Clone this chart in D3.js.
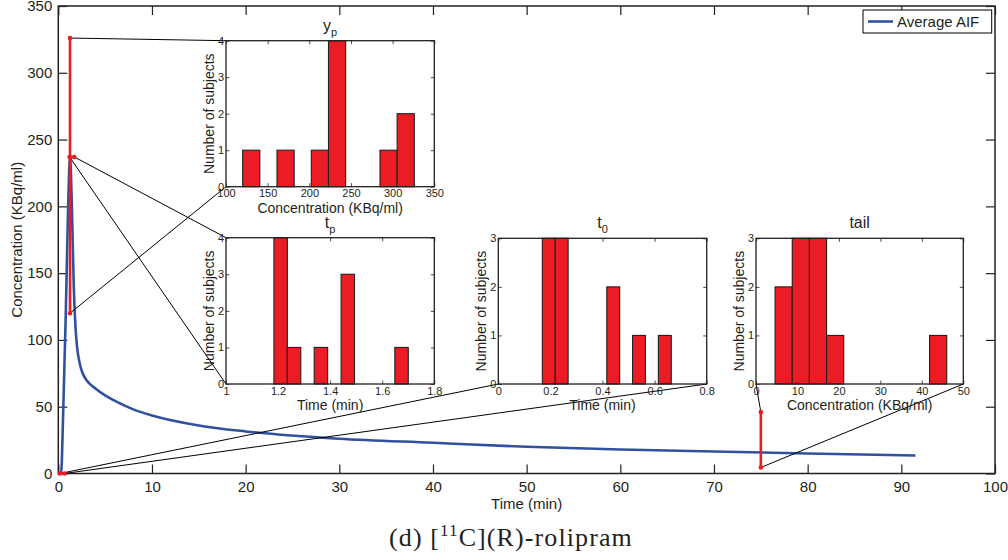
<!DOCTYPE html>
<html>
<head>
<meta charset="utf-8">
<script src="https://cdn.jsdelivr.net/npm/d3@7"></script>
<style>
  html, body { margin: 0; padding: 0; background: #fff; }
  svg { display: block; }
  text { font-family: "Liberation Sans", Arial, sans-serif; fill: #231f20; }
</style>
</head>
<body>
<svg id="chart" width="1008" height="560"></svg>
<script>
// ---------------- DATA ----------------
// Average AIF curve (time in min, concentration in KBq/ml)
const aifTime = [0, 0.3, 0.5, 0.8, 1.05, 1.25, 1.45, 1.65, 1.85, 2.0, 2.3, 2.6, 3, 4, 5, 6, 8, 10, 15, 20, 30, 40, 50, 60, 70, 80, 91.5];
const aifConc = [0, 0, 40, 120, 200, 237, 200, 140, 108, 95, 82, 75, 70, 63.5, 58.5, 54.5, 48, 43.5, 36, 31.5, 26, 23, 20, 18, 16.5, 15, 13.5];

// parameter ranges shown on the main plot
const ypRange = [120, 326];   // peak concentration range (at time tpAt)
const tpAt = 1.25;
const tpRange = [1.2, 1.7];   // peak time range (at concentration tpLevel)
const tpLevel = 237;
const t0Range = [0.17, 0.66]; // start time range (at concentration 0)
const tailRange = [4.5, 46];  // tail concentration range (at time tailAt)
const tailAt = 75;

// histograms (10 bins each)
const ypBinStart = 120, ypBinWidth = 20.6;
const ypCounts = [1, 0, 1, 0, 1, 4, 0, 0, 1, 2];
const tpBinStart = 1.184, tpBinWidth = 0.0516;
const tpCounts = [4, 1, 0, 1, 0, 3, 0, 0, 0, 1];
const t0BinStart = 0.169, t0BinWidth = 0.0495;
const t0Counts = [3, 3, 0, 0, 0, 2, 0, 1, 0, 1];
const tailBinStart = 4.6, tailBinWidth = 4.14;
const tailCounts = [2, 3, 3, 1, 0, 0, 0, 0, 0, 1];

// tick labels
const mainXTicks = [0, 10, 20, 30, 40, 50, 60, 70, 80, 90, 100];
const mainYTicks = [0, 50, 100, 150, 200, 250, 300, 350];
const ypXTicks = [100, 150, 200, 250, 300, 350];
const tpXTicks = [1, 1.2, 1.4, 1.6, 1.8];
const t0XTicks = [0, 0.2, 0.4, 0.6, 0.8];
const tailXTicks = [0, 10, 20, 30, 40, 50];
const counts4Ticks = [0, 1, 2, 3, 4];
const counts3Ticks = [0, 1, 2, 3];

// ---------------- LAYOUT ----------------
const svg = d3.select("#chart");
const INK = "#231f20", BLUE = "#3050a0", RED = "#ec1c24";
const M = { left: 58.3, right: 995, top: 6, bottom: 473.5 };
const x = d3.scaleLinear().domain([0, 100]).range([M.left, M.right]);
const y = d3.scaleLinear().domain([0, 350]).range([M.bottom, M.top]);

// main axes with inward ticks
const gMain = svg.append("g");
function styleAxis(g) {
  g.select(".domain").remove();
  g.selectAll(".tick line").attr("stroke", INK).attr("stroke-width", 1.2);
}
gMain.append("g").attr("transform", `translate(0,${M.bottom})`)
  .call(d3.axisBottom(x).tickValues(mainXTicks).tickSize(-9).tickPadding(8).tickFormat(d3.format("d")))
  .call(styleAxis).selectAll("text").attr("font-size", 15).attr("dy", "0.71em").attr("fill", INK);
gMain.append("g").attr("transform", `translate(0,${M.top})`)
  .call(d3.axisTop(x).tickValues(mainXTicks).tickSize(-9).tickFormat(""))
  .call(styleAxis);
gMain.append("g").attr("transform", `translate(${M.left},0)`)
  .call(d3.axisLeft(y).tickValues(mainYTicks).tickSize(-9).tickPadding(6).tickFormat(d3.format("d")))
  .call(styleAxis).selectAll("text").attr("font-size", 15).attr("fill", INK);
gMain.append("g").attr("transform", `translate(${M.right},0)`)
  .call(d3.axisRight(y).tickValues(mainYTicks).tickSize(-9).tickFormat(""))
  .call(styleAxis);
gMain.append("rect").attr("x", M.left).attr("y", M.top)
  .attr("width", M.right - M.left).attr("height", M.bottom - M.top)
  .attr("fill", "none").attr("stroke", INK).attr("stroke-width", 1.5);

// axis labels
svg.append("text").attr("x", (M.left + M.right) / 2).attr("y", 508.5)
  .attr("text-anchor", "middle").attr("font-size", 15).text("Time (min)");
svg.append("text").attr("transform", `translate(22,${(M.top + M.bottom) / 2}) rotate(-90)`)
  .attr("text-anchor", "middle").attr("font-size", 15).text("Concentration (KBq/ml)");

// Average AIF curve
const aifData = aifTime.map((t, i) => [t, aifConc[i]]);
svg.append("path").datum(aifData)
  .attr("fill", "none").attr("stroke", BLUE).attr("stroke-width", 2.6)
  .attr("stroke-linejoin", "round")
  .attr("d", d3.line().x(d => x(d[0])).y(d => y(d[1])).curve(d3.curveMonotoneX));

// insets layout
const insets = [
  { key: "yp", left: 226, top: 40.7, right: 434.3, bottom: 186.7, xDom: [100, 350], xTicks: ypXTicks, yMax: 4, yTicks: counts4Ticks,
    binStart: ypBinStart, binWidth: ypBinWidth, counts: ypCounts, title: ["y", "p"], xlabel: "Concentration (KBq/ml)" },
  { key: "tp", left: 226, top: 237.7, right: 434.3, bottom: 384, xDom: [1, 1.8], xTicks: tpXTicks, yMax: 4, yTicks: counts4Ticks,
    binStart: tpBinStart, binWidth: tpBinWidth, counts: tpCounts, title: ["t", "p"], xlabel: "Time (min)" },
  { key: "t0", left: 498.3, top: 238.3, right: 706.7, bottom: 384, xDom: [0, 0.8], xTicks: t0XTicks, yMax: 3, yTicks: counts3Ticks,
    binStart: t0BinStart, binWidth: t0BinWidth, counts: t0Counts, title: ["t", "0"], xlabel: "Time (min)" },
  { key: "tail", left: 756, top: 238.3, right: 963.3, bottom: 384, xDom: [0, 50], xTicks: tailXTicks, yMax: 3, yTicks: counts3Ticks,
    binStart: tailBinStart, binWidth: tailBinWidth, counts: tailCounts, title: ["tail", ""], xlabel: "Concentration (KBq/ml)" }
];
const I = Object.fromEntries(insets.map(d => [d.key, d]));

// connector lines (zoom lines)
const conn = [
  [[tpAt, ypRange[1]], [I.yp.left, I.yp.top]],
  [[tpAt, ypRange[0]], [I.yp.left, I.yp.bottom]],
  [[tpRange[1], tpLevel], [I.tp.left, I.tp.top]],
  [[tpRange[0], tpLevel], [I.tp.left, I.tp.bottom]],
  [[t0Range[0], 0], [I.t0.left, I.t0.bottom]],
  [[t0Range[1], 0], [I.t0.right, I.t0.bottom]],
  [[tailAt, tailRange[1]], [I.tail.left, I.tail.bottom]],
  [[tailAt, tailRange[0]], [I.tail.right, I.tail.bottom]]
];
svg.append("g").selectAll("line").data(conn).join("line")
  .attr("x1", d => x(d[0][0])).attr("y1", d => y(d[0][1]))
  .attr("x2", d => d[1][0]).attr("y2", d => d[1][1])
  .attr("stroke", "#000").attr("stroke-width", 1);

// red range markers
const ranges = [
  [[tpAt, ypRange[0]], [tpAt, ypRange[1]]],
  [[tpRange[0], tpLevel], [tpRange[1], tpLevel]],
  [[t0Range[0], 0], [t0Range[1], 0]],
  [[tailAt, tailRange[0]], [tailAt, tailRange[1]]]
];
const gR = svg.append("g");
gR.selectAll("line").data(ranges).join("line")
  .attr("x1", d => x(d[0][0])).attr("y1", d => y(d[0][1]))
  .attr("x2", d => x(d[1][0])).attr("y2", d => y(d[1][1]))
  .attr("stroke", RED).attr("stroke-width", 2.6);
gR.selectAll("circle").data(ranges.flat()).join("circle")
  .attr("cx", d => x(d[0])).attr("cy", d => y(d[1])).attr("r", 2.3).attr("fill", RED);

// draw insets
insets.forEach(s => {
  const g = svg.append("g");
  const ix = d3.scaleLinear().domain(s.xDom).range([s.left, s.right]);
  const iy = d3.scaleLinear().domain([0, s.yMax]).range([s.bottom, s.top]);
  g.append("rect").attr("x", s.left).attr("y", s.top).attr("width", s.right - s.left).attr("height", s.bottom - s.top)
    .attr("fill", "#fff");
  const fmt = v => String(v);
  const st = gg => { gg.select(".domain").remove(); gg.selectAll(".tick line").attr("stroke", INK).attr("stroke-width", 0.8); };
  g.append("g").attr("transform", `translate(0,${s.bottom})`)
    .call(d3.axisBottom(ix).tickValues(s.xTicks).tickSize(-3.5).tickPadding(3).tickFormat(fmt))
    .call(st).selectAll("text").attr("font-size", 11).attr("fill", INK).attr("dy", "0.71em");
  g.append("g").attr("transform", `translate(0,${s.top})`)
    .call(d3.axisTop(ix).tickValues(s.xTicks).tickSize(-3.5).tickFormat("")).call(st);
  g.append("g").attr("transform", `translate(${s.left},0)`)
    .call(d3.axisLeft(iy).tickValues(s.yTicks).tickSize(-3.5).tickPadding(2).tickFormat(fmt))
    .call(st).selectAll("text").attr("font-size", 11).attr("fill", INK);
  g.append("g").attr("transform", `translate(${s.right},0)`)
    .call(d3.axisRight(iy).tickValues(s.yTicks).tickSize(-3.5).tickFormat("")).call(st);
  // bars
  const bins = s.counts.map((c, i) => ({ x0: s.binStart + i * s.binWidth, x1: s.binStart + (i + 1) * s.binWidth, c }));
  g.append("g").selectAll("rect").data(bins.filter(b => b.c > 0)).join("rect")
    .attr("x", b => ix(b.x0)).attr("width", b => ix(b.x1) - ix(b.x0))
    .attr("y", b => iy(b.c)).attr("height", b => iy(0) - iy(b.c))
    .attr("fill", RED).attr("stroke", INK).attr("stroke-width", 1.1);
  // box
  g.append("rect").attr("x", s.left).attr("y", s.top).attr("width", s.right - s.left).attr("height", s.bottom - s.top)
    .attr("fill", "none").attr("stroke", INK).attr("stroke-width", 1.3);
  // title
  const t = g.append("text").attr("x", (s.left + s.right) / 2).attr("y", s.top - 10)
    .attr("text-anchor", "middle").attr("font-size", 16);
  t.append("tspan").text(s.title[0]);
  if (s.title[1]) t.append("tspan").attr("font-size", 11).attr("dy", 5).text(s.title[1]);
  // labels
  g.append("text").attr("x", (s.left + s.right) / 2).attr("y", s.bottom + 26)
    .attr("text-anchor", "middle").attr("font-size", 14).text(s.xlabel);
  g.append("text").attr("transform", `translate(${s.left - 12},${(s.top + s.bottom) / 2}) rotate(-90)`)
    .attr("text-anchor", "middle").attr("font-size", 14).text("Number of subjects");
});

// legend
const lg = svg.append("g");
lg.append("rect").attr("x", 863).attr("y", 10).attr("width", 128.7).attr("height", 23)
  .attr("fill", "#fff").attr("stroke", "#000").attr("stroke-width", 1);
lg.append("line").attr("x1", 868).attr("x2", 893).attr("y1", 21.5).attr("y2", 21.5)
  .attr("stroke", BLUE).attr("stroke-width", 2.6);
lg.append("text").attr("x", 897).attr("y", 27).attr("font-size", 15).text("Average AIF");

// caption
const cap = svg.append("text").attr("x", 511).attr("y", 545.5).attr("text-anchor", "middle")
  .style("font-family", "'Liberation Serif', 'DejaVu Serif', serif").attr("font-size", 26)
  .attr("letter-spacing", 1.1);
cap.append("tspan").text("(d) [");
cap.append("tspan").attr("font-size", 17).attr("dy", -10).text("11");
cap.append("tspan").attr("dy", 10).text("C](R)-rolipram");
</script>
</body>
</html>
